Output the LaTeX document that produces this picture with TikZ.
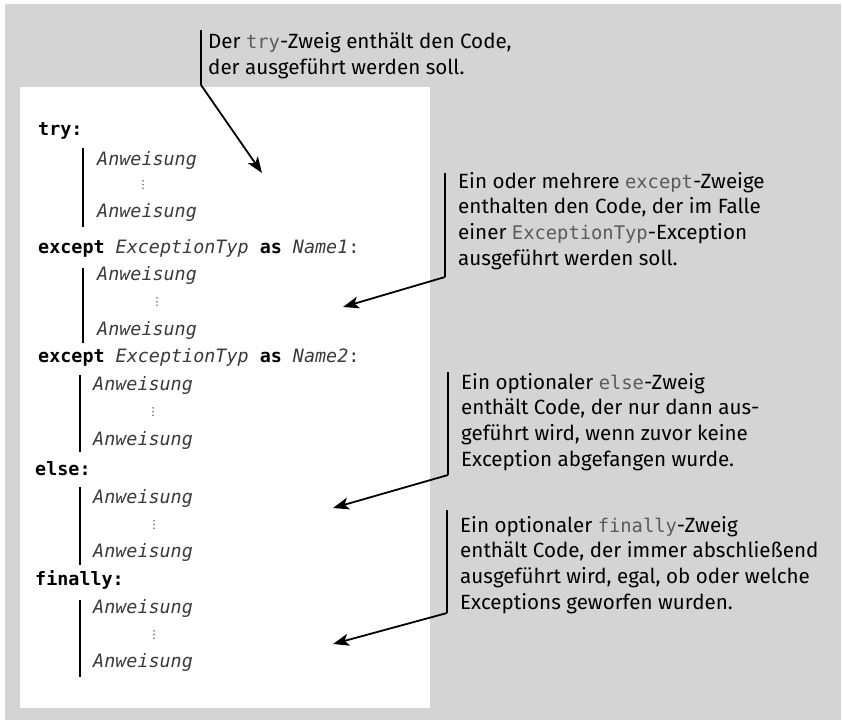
\documentclass[tikz,border=0pt]{standalone}
\usepackage{fontspec}
\setmainfont{Fira Sans}
\newfontfamily\codefont{DejaVu Sans Mono}
\newfontfamily\symfont{DejaVu Sans}
\usetikzlibrary{arrows.meta}

\definecolor{panel}{HTML}{D4D4D4}
\definecolor{codegray}{HTML}{3A3A3A}
\definecolor{inlinegray}{HTML}{5A5A5A}

% keyword, placeholder and inline-code helpers
\newcommand\kw[1]{{\bfseries #1}}
\newcommand\ph[1]{{\itshape\color{codegray}#1}}
\newcommand\ic[1]{{\codefont\fontsize{18.8}{25.8}\selectfont\color{inlinegray}#1}}

\tikzset{
  code/.style={anchor=base west, inner sep=0pt,
    font=\codefont\fontsize{18.4}{22}\selectfont},
  ellip/.style={anchor=base, inner sep=0pt, text=codegray,
    font=\symfont\fontsize{11}{11}\selectfont},
  % multi-line notes are placed by the baseline of their last line
  note/.style={anchor=base west, inner sep=0pt, align=left,
    font=\fontsize{20.6}{25.8}\selectfont},
  blockbar/.style={line width=2.8pt},
  calloutbar/.style={line width=1.6pt},
  pointer/.style={line width=1.8pt,
    -{Stealth[length=16pt,width=12pt,inset=4pt]}},
}

\begin{document}
\begin{tikzpicture}[x=1pt,y=-1pt]
\useasboundingbox (0,0) rectangle (842,720);
\fill[panel] (5,4) rectangle (841,720);
\fill[white] (20,87) rectangle (430,708);

% ---- code listing ----
\node[code] (try)  at (38,135) {\kw{try:}};
\node[code] (a1)   at (97,165) {\ph{Anweisung}};
\node[ellip] (d1)  at (143,188) {⋮};
\node[code] (a2)   at (97,217) {\ph{Anweisung}};

\node[code] (exc1) at (38,253) {\kw{except} \ph{ExceptionTyp} \kw{as} \ph{Name1}{\color{codegray}:}};
\node[code] (a3)   at (97,280) {\ph{Anweisung}};
\node[ellip] (d2)  at (157,305) {⋮};
\node[code] (a4)   at (97,335) {\ph{Anweisung}};

\node[code] (exc2) at (38,362) {\kw{except} \ph{ExceptionTyp} \kw{as} \ph{Name2}{\color{codegray}:}};
\node[code] (a5)   at (93,390) {\ph{Anweisung}};
\node[ellip] (d3)  at (153,415) {⋮};
\node[code] (a6)   at (93,445) {\ph{Anweisung}};

\node[code] (els)  at (35,475) {\kw{else:}};
\node[code] (a7)   at (93,503) {\ph{Anweisung}};
\node[ellip] (d4)  at (154,528) {⋮};
\node[code] (a8)   at (93,557) {\ph{Anweisung}};

\node[code] (fin)  at (35,585) {\kw{finally:}};
\node[code] (a9)   at (93,613) {\ph{Anweisung}};
\node[ellip] (d5)  at (154,638) {⋮};
\node[code] (a10)  at (93,667) {\ph{Anweisung}};

% block indentation bars
\draw[blockbar] (83,148) -- (83,227);
\draw[blockbar] (83,268) -- (83,343);
\draw[blockbar] (80,375) -- (80,452);
\draw[blockbar] (80,487) -- (80,565);
\draw[blockbar] (80,600) -- (80,677);

% ---- explanations ----
\node[note] (n1) at (208,74)
  {Der \ic{try}-Zweig enthält den Code,\\der ausgeführt werden soll.};
\node[note] (n2) at (458,265.4)
  {Ein oder mehrere \ic{except}-Zweige\\enthalten den Code, der im Falle\\einer \ic{ExceptionTyp}-Exception\\ausgeführt werden soll.};
\node[note] (n3) at (461,466.4)
  {Ein optionaler \ic{else}-Zweig\\enthält Code, der nur dann aus-\\geführt wird, wenn zuvor keine\\Exception abgefangen wurde.};
\node[note] (n4) at (460,609.4)
  {Ein optionaler \ic{finally}-Zweig\\enthält Code, der immer abschließend\\ausgeführt wird, egal, ob oder welche\\Exceptions geworfen wurden.};

% callout bars beside each note
\coordinate (n1top) at (201,30);  \coordinate (n1bot) at (201,85);
\coordinate (n2top) at (445,173); \coordinate (n2bot) at (445,277);
\coordinate (n3top) at (448,372); \coordinate (n3bot) at (448,475);
\coordinate (n4top) at (447,510); \coordinate (n4bot) at (447,613);

% arrow targets inside the listing
\coordinate (t1) at (262,173);
\coordinate (t2) at (343,307);
\coordinate (t3) at (333,508);
\coordinate (t4) at (333,644);

\draw[calloutbar] (n1top) -- (n1bot);
\draw[calloutbar] (n2top) -- (n2bot);
\draw[calloutbar] (n3top) -- (n3bot);
\draw[calloutbar] (n4top) -- (n4bot);

\draw[pointer] (n1bot) -- (t1);
\draw[pointer] (n2bot) -- (t2);
\draw[pointer] (n3bot) -- (t3);
\draw[pointer] (n4bot) -- (t4);
\end{tikzpicture}
\end{document}
